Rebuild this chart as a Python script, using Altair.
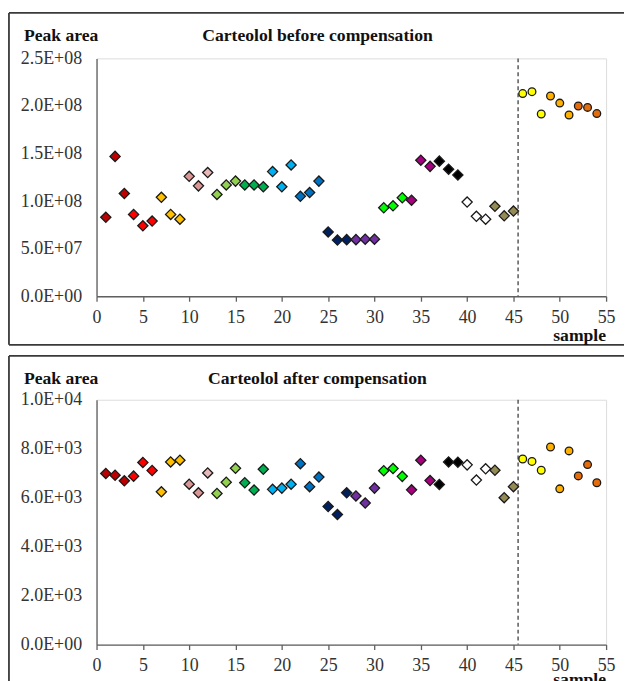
import altair as alt
import pandas as pd

samples = list(range(1, 55))

before = [8.3e7, 1.47e8, 1.08e8, 8.6e7, 7.4e7, 7.9e7, 1.04e8, 8.6e7, 8.1e7,
          1.26e8, 1.16e8, 1.30e8, 1.07e8, 1.17e8, 1.21e8, 1.17e8, 1.17e8, 1.15e8,
          1.31e8, 1.15e8, 1.38e8, 1.05e8, 1.09e8, 1.21e8, 6.76e7, 5.9e7, 5.95e7,
          5.95e7, 6.0e7, 6.0e7, 9.3e7, 9.5e7, 1.035e8, 1.01e8, 1.43e8, 1.365e8,
          1.42e8, 1.335e8, 1.275e8, 9.9e7, 8.4e7, 8.1e7, 9.45e7, 8.45e7, 8.95e7,
          2.13e8, 2.15e8, 1.915e8, 2.105e8, 2.03e8, 1.905e8, 2.0e8, 1.985e8, 1.92e8]

after = [6.99e3, 6.92e3, 6.69e3, 6.88e3, 7.44e3, 7.11e3, 6.24e3, 7.46e3, 7.53e3,
         6.55e3, 6.20e3, 7.01e3, 6.17e3, 6.63e3, 7.20e3, 6.61e3, 6.31e3, 7.16e3,
         6.34e3, 6.39e3, 6.55e3, 7.39e3, 6.45e3, 6.84e3, 5.64e3, 5.31e3, 6.20e3,
         6.07e3, 5.78e3, 6.39e3, 7.10e3, 7.19e3, 6.87e3, 6.32e3, 7.53e3, 6.70e3,
         6.54e3, 7.46e3, 7.45e3, 7.34e3, 6.72e3, 7.18e3, 7.12e3, 6.00e3, 6.45e3,
         7.58e3, 7.48e3, 7.12e3, 8.07e3, 6.36e3, 7.91e3, 6.89e3, 7.35e3, 6.61e3]

group_colors = ["#C00000", "#FF0000", "#FFC000", "#D99694", "#92D050", "#00B050",
                "#00B0F0", "#0070C0", "#002060", "#7030A0", "#00FF00", "#A5007D",
                "#000000", "#FFFFFF", "#948A54", "#FFFF00", "#FFB000", "#E46C0A"]
point_colors = [c for c in group_colors for _ in range(3)]
point_colors[11] = "#E6B9B8"
markers = ["diamond"] * 45 + ["circle"] * 9
divider = [45.5]

x_ticks = list(range(0, 56, 5))

df = pd.DataFrame({
    "sample": samples,
    "before": before,
    "after": after,
    "color": point_colors,
    "marker": markers,
})
df["size"] = [105 if m == "diamond" else 60 for m in markers]

FONT = "'Liberation Serif', 'Times New Roman', Times, serif"
FRAME = "#3a3a3a"
LABEL_SIZE = 18
BOLD_SIZE = 17.7

label_expr = ("datum.value == 0 ? '0.0E+00' : "
              "format(datum.value / pow(10, floor(log(datum.value)/LN10 + 1e-9)), '.1f')"
              " + 'E+' + format(floor(log(datum.value)/LN10 + 1e-9), '02d')")


def panel(field, ymax, ystep, height, title, frame_top, frame_bottom, with_bottom,
          sample_offset):
    x_enc = alt.X("sample:Q",
                  scale=alt.Scale(domain=[0, 55], nice=False, zero=False),
                  axis=alt.Axis(values=x_ticks, title=None, grid=False,
                                tickSize=5, tickColor="#606060", tickWidth=1.3,
                                domainColor="#606060", domainWidth=1.3,
                                labelFont=FONT, labelFontSize=LABEL_SIZE,
                                labelColor="#333333", labelBaseline="alphabetic",
                                labelPadding=21, format="d", labelFlush=False))
    yvals = [ystep * i for i in range(int(round(ymax / ystep)) + 1)]
    y_enc = alt.Y(f"{field}:Q",
                  scale=alt.Scale(domain=[0, ymax], nice=False),
                  axis=alt.Axis(values=yvals, title=None, grid=False, ticks=False,
                                domainColor="#606060", domainWidth=1.3,
                                labelFont=FONT, labelFontSize=LABEL_SIZE,
                                labelColor="#333333",
                                labelPadding=15, labelExpr=label_expr,
                                labelFlush=False))
    pts = alt.Chart(df).mark_point(filled=True, stroke="#1a1a1a", strokeWidth=1.3,
                                   opacity=1).encode(
        x=x_enc, y=y_enc,
        fill=alt.Fill("color:N", scale=None),
        shape=alt.Shape("marker:N", scale=None),
        size=alt.Size("size:Q", scale=None),
    )
    rule = alt.Chart(pd.DataFrame({"x": divider})).mark_rule(
        strokeDash=[4, 3], color="#404040", strokeWidth=1.3).encode(x="x:Q")

    one = pd.DataFrame({"t": ["Peak area"]})
    ytitle = alt.Chart(one).mark_text(align="left", baseline="alphabetic", font=FONT,
                                      fontSize=BOLD_SIZE, fontWeight="bold",
                                      color="#111111").encode(
        x=alt.value(-73), y=alt.value(frame_top + 28.5), text="t:N")
    ttl = alt.Chart(pd.DataFrame({"t": [title]})).mark_text(
        align="center", baseline="alphabetic", font=FONT, fontSize=BOLD_SIZE,
        fontWeight="bold", color="#111111").encode(
        x=alt.value(222), y=alt.value(frame_top + 28.5), text="t:N")
    xtitle = alt.Chart(pd.DataFrame({"t": ["sample"]})).mark_text(
        align="right", baseline="alphabetic", font=FONT, fontSize=BOLD_SIZE,
        fontWeight="bold", color="#111111").encode(
        x=alt.value(512), y=alt.value(height + sample_offset), text="t:N")

    frame_left = alt.Chart(one).mark_rule(color=FRAME, strokeWidth=1.8).encode(
        x=alt.value(-88), y=alt.value(frame_top), y2=alt.value(frame_bottom))
    frame_topline = alt.Chart(one).mark_rule(color=FRAME, strokeWidth=1.8).encode(
        x=alt.value(-88), x2=alt.value(530), y=alt.value(frame_top))
    layers = [frame_left, frame_topline]
    if with_bottom:
        layers.append(alt.Chart(one).mark_rule(color=FRAME, strokeWidth=1.8).encode(
            x=alt.value(-88), x2=alt.value(530), y=alt.value(frame_bottom)))
    layers += [rule, pts, ytitle, ttl, xtitle]
    return alt.layer(*layers).properties(width=512, height=height)


top = panel("before", 2.5e8, 5e7, 239, "Carteolol before compensation",
            -45.7, 287.8, True, 45)
bottom = panel("after", 1.0e4, 2e3, 246, "Carteolol after compensation",
               -44, 290, False, 41)

chart = alt.vconcat(top, bottom, spacing=7).properties(
    padding={"left": 7, "top": 9, "right": 0, "bottom": 0}
).configure_view(stroke=None).configure(background="white")

chart.save("out.html", embed_options={"renderer": "svg", "actions": False})
